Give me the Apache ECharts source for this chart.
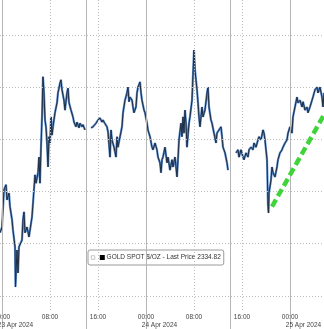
<!DOCTYPE html>
<html>
<head>
<meta charset="utf-8">
<script src="https://cdn.jsdelivr.net/npm/echarts@6/dist/echarts.min.js"></script>
<style>html,body{margin:0;padding:0;background:#fff}#c{width:324px;height:329px}</style>
</head>
<body>
<div id="c"></div>
<script>
// hours since 23 Apr 2024 00:00 (null = session break)
const hours = [-0.33,0,0.33,0.67,0.83,1.17,1.33,1.67,1.83,2.17,2.25,2.5,2.67,2.83,3.33,3.5,3.67,3.83,4.17,4.5,4.67,5,5.17,5.5,5.67,6,6.17,6.33,6.5,6.67,6.83,7,7.17,7.33,7.5,7.67,7.83,8,8.17,8.33,8.5,8.83,9.17,9.33,9.67,9.83,10,10.33,10.5,10.83,11,11.17,11.5,11.83,12,12.33,12.5,12.83,13,13.33,13.5,13.83,14.3,
14.83,15.17,15.67,16,16.33,16.67,16.83,17.17,17.5,17.67,18,18.17,18.33,18.67,19,19.17,19.33,19.67,20,20.17,20.5,20.83,21,21.17,21.33,21.67,21.83,22,22.33,22.5,22.67,23,23.17,23.33,23.67,23.83,24.17,24.33,24.67,25,25.17,25.5,25.83,26,26.33,26.5,26.67,26.83,27.17,27.5,27.67,28,28.33,28.5,28.83,29.17,29.33,29.5,29.83,30,30.17,30.33,30.5,30.67,30.83,31.17,31.33,31.67,31.83,32,32.17,32.33,32.5,32.67,32.83,33,33.33,33.5,33.83,34.17,34.33,34.5,34.83,35,35.33,35.67,35.83,36.17,36.5,36.67,36.83,37.17,37.5,37.67,38.2,
39,39.33,39.5,39.83,40.17,40.33,40.67,41,41.17,41.5,41.83,42,42.33,42.67,42.83,43.17,43.5,43.67,43.83,44.17,44.33,44.42,44.5,44.83,45,45.17,45.5,45.83,46,46.33,46.67,46.83,47.17,47.5,47.67,48,48.33,48.5,48.83,49.17,49.33,49.67,50,50.17,50.5,50.83,51,51.33,51.67,51.83,52.17,52.5,52.67,53,53.33,53.5,53.67];
const prices = [2302.1,2303.2,2310.3,2311.3,2308.4,2309.7,2307.1,2304.6,2302.6,2299.4,2291.7,2298.8,2294.4,2299.4,2300.7,2304.6,2306.1,2302.1,2303.2,2301.3,2302.6,2305.1,2307.8,2313.2,2311.6,2313.6,2316.6,2311.6,2318.5,2324.3,2332.0,2328.9,2323.7,2322.4,2319.3,2314.7,2320.5,2319.3,2324.3,2320.8,2322.4,2325.1,2327.0,2328.9,2330.8,2331.4,2329.5,2327.5,2325.6,2328.9,2329.8,2327.0,2325.6,2324.3,2323.3,2322.4,2323.3,2322.2,2323.1,2322.4,2322.8,2321.8,null,
2322.2,2322.4,2323.1,2323.7,2324.1,2323.3,2323.7,2323.0,2322.4,2321.4,2316.6,2321.8,2319.9,2318.5,2316.6,2320.5,2318.5,2320.5,2322.4,2325.1,2327.5,2328.9,2330.0,2327.2,2328.1,2327.5,2326.2,2325.1,2326.2,2328.9,2330.0,2331.0,2328.9,2327.5,2325.6,2325.1,2323.1,2321.8,2320.5,2318.5,2318.0,2319.3,2318.0,2316.6,2315.5,2313.6,2316.1,2316.6,2318.5,2315.5,2316.6,2314.1,2316.1,2314.7,2316.6,2312.8,2316.1,2319.9,2323.1,2320.5,2324.3,2321.2,2325.6,2323.1,2318.5,2323.1,2324.3,2327.5,2332.3,2337.1,2333.3,2331.4,2329.5,2327.0,2324.3,2322.4,2326.2,2324.3,2325.6,2328.9,2330.0,2326.2,2323.7,2323.1,2321.2,2319.3,2321.2,2321.8,2322.4,2320.5,2318.5,2317.4,2315.5,2314.1,null,
2317.4,2318.0,2316.6,2318.0,2316.6,2316.1,2317.4,2316.6,2318.0,2318.5,2318.0,2319.3,2318.5,2319.9,2320.5,2319.9,2321.8,2321.2,2319.9,2316.1,2307.4,2305.9,2309.7,2312.2,2314.7,2313.6,2312.8,2314.7,2316.1,2317.4,2318.0,2318.5,2319.3,2319.9,2321.2,2322.4,2321.2,2324.3,2326.2,2328.1,2327.0,2327.5,2326.2,2327.2,2325.6,2326.2,2325.1,2326.2,2327.5,2328.1,2329.5,2330.0,2328.9,2330.0,2328.1,2326.2,2328.9];
const trendHours = [45, 53.67];
const trendPrices = [2307.1, 2324.7];
const priceGrid = [2290, 2300, 2310, 2320, 2330, 2340];
const hourGrid = [8, 16, 32, 40];
const sessionLines = [0, 14, 24, 38, 48];
const timeTicks = [0, 8, 16, 24, 32, 40, 48];
const timeLabels = ['00:00', '08:00', '16:00', '00:00', '08:00', '16:00', '00:00'];
const dateTicks = [0, 24, 48];
const dateLabels = ['23 Apr 2024', '24 Apr 2024', '25 Apr 2024'];
const seriesName = 'GOLD SPOT $/OZ';
const lastPrice = 2334.82;

const FONT = 'Liberation Sans';
const priceData = hours.map((h, i) => [h, prices[i]]);
const trendData = trendHours.map((h, i) => [h, trendPrices[i]]);
const chart = echarts.init(document.getElementById('c'), null, {renderer: 'canvas'});
const xMin = -0.3333, xMax = 53.6667;
chart.setOption({
  animation: false,
  backgroundColor: '#ffffff',
  grid: {left: 0, right: 0, top: 0, bottom: 19, containLabel: false, outerBoundsMode: 'none'},
  xAxis: [{
    type: 'value', min: xMin, max: xMax,
    splitLine: {show: false},
    axisLine: {show: false},
    axisTick: {show: true, customValues: sessionLines, length: 19, lineStyle: {color: '#b4b4b4', width: 1}},
    axisLabel: {show: true, customValues: timeTicks, margin: 4, color: '#444', fontFamily: FONT, fontSize: 6.5,
      hideOverlap: false, formatter: v => timeLabels[timeTicks.indexOf(v)]}
  }, {
    type: 'value', min: xMin, max: xMax, position: 'bottom', offset: 0,
    splitLine: {show: false}, axisLine: {show: false}, axisTick: {show: false},
    axisLabel: {show: true, customValues: dateTicks, margin: 12, align: 'center', padding: [0, 0, 0, 27],
      color: '#444', fontFamily: FONT, fontSize: 6.5,
      hideOverlap: false, formatter: v => dateLabels[dateTicks.indexOf(v)]}
  }],
  yAxis: {
    type: 'value', min: 2287.3, max: 2346.7,
    splitLine: {show: false}, axisLine: {show: false}, axisTick: {show: false}, axisLabel: {show: false}
  },
  legend: {
    left: 88, top: 250, orient: 'horizontal',
    data: [{name: seriesName, icon: 'rect', itemStyle: {color: '#ffffff', borderColor: '#a0a0a0', borderWidth: 0.6}}],
    itemWidth: 3.5, itemHeight: 3.5,
    padding: [4, 3, 4, 3],
    backgroundColor: '#ffffff', borderColor: '#9a9a9a', borderWidth: 1, borderRadius: 2,
    selectedMode: false,
    formatter: n => '{b|}{t| ' + n + ' - Last Price ' + lastPrice.toFixed(2) + '}',
    textStyle: {
      fontFamily: FONT, fontSize: 6.5, color: '#333',
      rich: {
        b: {width: 5, height: 5, backgroundColor: '#000'},
        t: {fontFamily: FONT, fontSize: 6.5, color: '#333'}
      }
    }
  },
  series: [{
    type: 'line', name: 'grid', data: [], silent: true,
    markLine: {
      silent: true, symbol: 'none', label: {show: false}, animation: false,
      data: [
        ...priceGrid.map(p => ({yAxis: p, lineStyle: {color: '#bdbdbd', type: [1, 2], width: 1}})),
        ...hourGrid.map(h => ({xAxis: h, lineStyle: {color: '#bdbdbd', type: [1, 2], width: 1}})),
        ...sessionLines.map(h => ({xAxis: h, lineStyle: {color: '#b4b4b4', type: 'solid', width: 1}}))
      ]
    }
  }, {
    type: 'line', name: seriesName, data: priceData, showSymbol: false, connectNulls: false,
    lineStyle: {color: '#5a8ccc', width: 2.2}, itemStyle: {color: '#000'}, z: 3
  }, {
    type: 'line', name: 'core', data: priceData, showSymbol: false, connectNulls: false,
    lineStyle: {color: '#1f2d40', width: 1}, z: 4
  }, {
    type: 'line', name: 'trend', data: trendData, showSymbol: false,
    lineStyle: {color: '#3fd43a', width: 4.5, type: [8, 4], cap: 'butt'}, z: 5
  }]
});
</script>
</body>
</html>
